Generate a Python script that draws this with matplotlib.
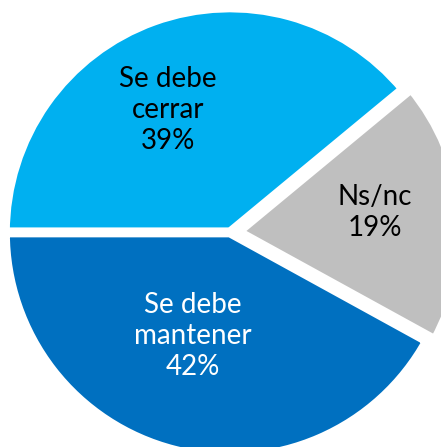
import numpy as np
import matplotlib
matplotlib.use('Agg')
import matplotlib.pyplot as plt

# ─────────────────────────────────────────────
# Data
# ─────────────────────────────────────────────
labels  = ['Se debe\ncerrar', 'Ns/nc', 'Se debe\nmantener']
values  = [39, 19, 42]
colors  = ['#00B0F0', '#BFBFBF', '#0070C0']
txt_col = ['black', 'black', 'white']
explode = [0.0, 0.035, 0.0]

# label placement: (radius fraction, angle offset from wedge middle, deg)
LBL_POS = [(0.61, 7.0), (0.615, 2.5), (0.49, -5.5)]

# ─────────────────────────────────────────────
# Figure
# ─────────────────────────────────────────────
W, H, DPI = 441, 447, 100
CX, CY, RPX = 230, 232.5, 225     # pie centre / radius in pixels

fig = plt.figure(figsize=(W / DPI, H / DPI), dpi=DPI)
ax = fig.add_axes([0, 0, 1, 1])

wedges, _ = ax.pie(values, colors=colors, explode=explode,
                   startangle=180, counterclock=False, radius=1.0,
                   wedgeprops=dict(edgecolor='white', linewidth=7.0))

ax.set_xlim(-CX / RPX, (W - CX) / RPX)
ax.set_ylim(-(H - CY) / RPX, CY / RPX)
ax.set_aspect('auto')
ax.axis('off')

for w, lab, v, tc, (rf, dth) in zip(wedges, labels, values, txt_col, LBL_POS):
    mid = np.deg2rad((w.theta1 + w.theta2) / 2 + dth)
    cx, cy = w.center
    ax.text(cx + rf * np.cos(mid), cy + rf * np.sin(mid), f'{lab}\n{v}%',
            ha='center', va='center', color=tc, fontsize=20,
            family=['Lato', 'DejaVu Sans'], linespacing=1.25)

fig.savefig('out.png', dpi=DPI)
